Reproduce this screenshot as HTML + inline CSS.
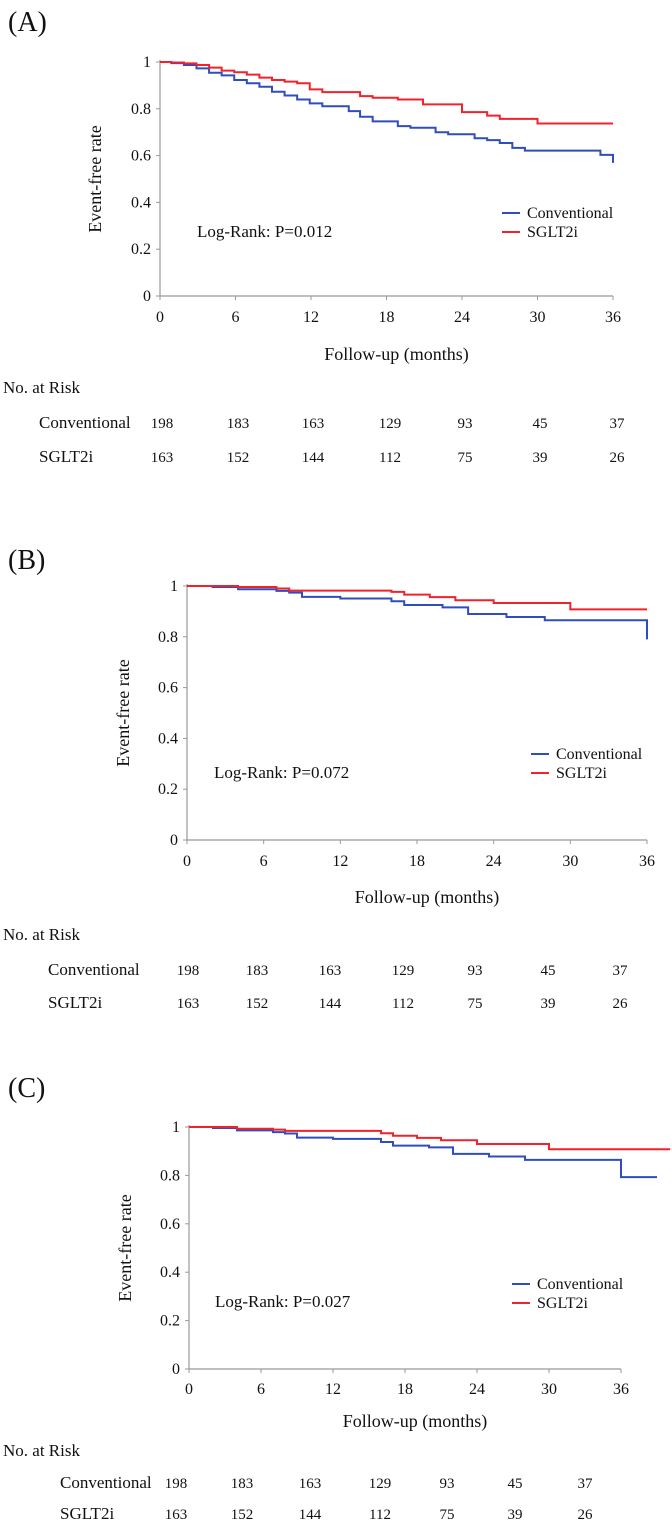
<!DOCTYPE html>
<html><head><meta charset="utf-8"><style>
body{margin:0;background:#fff;}
svg{display:block;font-family:"Liberation Serif",serif;}
</style></head><body>
<svg id="s" width="672" height="1532" viewBox="0 0 672 1532" xmlns="http://www.w3.org/2000/svg"></svg>
<script>
const xTicks=[0,6,12,18,24,30,36];
const yTicks=[0,0.2,0.4,0.6,0.8,1];
const yTickLabels=["0","0.2","0.4","0.6","0.8","1"];
const riskConv=[198,183,163,129,93,45,37];
const riskSglt=[163,152,144,112,75,39,26];
// Panel A
const aConvT=[0,0.9,1.9,2.9,3.9,4.9,5.9,6.9,7.9,8.9,9.9,10.9,11.9,12.9,15,15.9,16.9,18.9,19.9,21.9,22.9,25,26,27,28,29,35,36];
const aConvS=[1,0.995,0.987,0.973,0.954,0.943,0.923,0.909,0.894,0.873,0.857,0.84,0.823,0.811,0.79,0.766,0.746,0.726,0.719,0.70,0.691,0.674,0.666,0.654,0.633,0.621,0.603,0.569];
const aSgltT=[0,0.9,1.9,2.9,3.9,4.9,5.9,6.9,7.9,8.9,9.9,10.9,11.9,12.9,15.9,16.9,18.9,20.9,24,26,27,30];
const aSgltS=[1,0.998,0.994,0.987,0.976,0.963,0.956,0.946,0.933,0.923,0.916,0.909,0.883,0.871,0.854,0.847,0.84,0.819,0.786,0.771,0.757,0.737];
// Panel B
const bConvT=[0,2,4,7,8,9,12,16,17,20,22,25,28,36];
const bConvS=[1,0.996,0.987,0.981,0.974,0.957,0.951,0.94,0.925,0.916,0.89,0.878,0.865,0.79];
const bSgltT=[0,4,7,8,16,17,19,21,24,30];
const bSgltS=[1,0.996,0.99,0.982,0.977,0.966,0.956,0.944,0.933,0.908];
// Panel C
const cConvT=[0,2,4,7,8,9,12,16,17,20,22,25,28,36];
const cConvS=[1,0.996,0.986,0.979,0.973,0.956,0.951,0.938,0.923,0.916,0.889,0.878,0.864,0.793];
const cSgltT=[0,4,7,8,16,17,19,21,24,30];
const cSgltS=[1,0.993,0.989,0.984,0.974,0.964,0.955,0.945,0.93,0.908];

const NS="http://www.w3.org/2000/svg";
const svg=document.getElementById('s');
function mk(tag,attrs,parent,txt){const e=document.createElementNS(NS,tag);for(const k in attrs)e.setAttribute(k,attrs[k]);if(txt!==undefined)e.textContent=txt;(parent||svg).appendChild(e);return e;}

const panels=[
 {id:'a',label:'(A)',ly:31,x0:160,x1:613,y0:296,y1:62,endC:36,endS:36,conv:[aConvT,aConvS],sglt:[aSgltT,aSgltS],p:'Log-Rank: P=0.012',px:197,py:237,lgx:502,lgy:213,titleX:101,tickY:322,fuY:360,narY:393,rowY:[428,462],nums:[162,238,313,390,465,540,617],labX:39},
 {id:'b',label:'(B)',ly:569,x0:187,x1:647,y0:840,y1:586,endC:36,endS:36,conv:[bConvT,bConvS],sglt:[bSgltT,bSgltS],p:'Log-Rank: P=0.072',px:214,py:778,lgx:531,lgy:754,titleX:129,tickY:866,fuY:903,narY:940,rowY:[975,1008],nums:[188,257,330,403,475,548,620],labX:48},
 {id:'c',label:'(C)',ly:1097,x0:189,x1:621,y0:1369,y1:1127,endC:39,endS:40.1,conv:[cConvT,cConvS],sglt:[cSgltT,cSgltS],p:'Log-Rank: P=0.027',px:215,py:1307,lgx:512,lgy:1284,titleX:131,tickY:1394,fuY:1427,narY:1456,rowY:[1488,1519],nums:[176,242,310,380,447,515,585],labX:60}
];

panels.forEach(P=>{
 const g=mk('g',{});
 
 
 const xs=m=>P.x0+(P.x1-P.x0)*m/36;
 const ys=v=>P.y0+(P.y1-P.y0)*v;
 let t=mk('text',{x:8,y:P.ly,'font-size':28,fill:'#111'},g,P.label);
 
 let ax=mk('path',{d:`M${P.x0},${P.y1-2}V${P.y0}H${P.x1}`,stroke:'#999',fill:'none','stroke-width':1.2},g);
 
 yTicks.forEach((v,i)=>{
  mk('line',{x1:P.x0-4,x2:P.x0,y1:ys(v),y2:ys(v),stroke:'#999'},g);
  const l=mk('text',{x:P.x0-9,y:ys(v)+5,'font-size':16,'text-anchor':'end',fill:'#111'},g,yTickLabels[i]);
  
 });
 xTicks.forEach(m=>{
  mk('line',{x1:xs(m),x2:xs(m),y1:P.y0,y2:P.y0+4,stroke:'#999'},g);
  const l=mk('text',{x:xs(m),y:P.tickY,'font-size':16,'text-anchor':'middle',fill:'#111'},g,String(m));
  
 });
 const yc=(P.y0+P.y1)/2;
 let yt=mk('text',{x:P.titleX,y:yc,'font-size':18,'text-anchor':'middle',fill:'#111',transform:`rotate(-90 ${P.titleX} ${yc})`},g,'Event-free rate');
 
 let xt=mk('text',{x:(P.x0+P.x1)/2+10,y:P.fuY,'font-size':18,'text-anchor':'middle',fill:'#111'},g,'Follow-up (months)');
 
 function curve(T,S,end,col,name){
  let d=`M${xs(T[0])},${ys(S[0])}`;
  for(let i=1;i<T.length;i++){d+=`H${xs(T[i])}V${ys(S[i])}`;}
  d+=`H${xs(end)}`;
  const p=mk('path',{d:d,stroke:col,fill:'none','stroke-width':2},g);
  
 }
 curve(P.conv[0],P.conv[1],P.endC,'#2f4dbf','conventional-curve');
 curve(P.sglt[0],P.sglt[1],P.endS,'#f0222b','sglt2i-curve');
 let pv=mk('text',{x:P.px,y:P.py,'font-size':17,fill:'#111'},g,P.p);
 
 [['Conventional','#2f4dbf'],['SGLT2i','#f0222b']].forEach((e,i)=>{
  const yy=P.lgy+i*19;
  const le=mk('g',{},g);
  
  mk('line',{x1:P.lgx,x2:P.lgx+18,y1:yy,y2:yy,stroke:e[1],'stroke-width':2},le);
  mk('text',{x:P.lgx+25,y:yy+5,'font-size':16,fill:'#111'},le,e[0]);
 });
 let nr=mk('text',{x:3,y:P.narY,'font-size':17,fill:'#111'},g,'No. at Risk');
 
 [['Conventional',riskConv],['SGLT2i',riskSglt]].forEach((r,i)=>{
  const row=mk('g',{},g);
  
  mk('text',{x:P.labX,y:P.rowY[i],'font-size':17,fill:'#111'},row,r[0]);
  r[1].forEach((n,j)=>mk('text',{x:P.nums[j],y:P.rowY[i],'font-size':15,'text-anchor':'middle',fill:'#111'},row,String(n)));
 });
});
</script>
</body></html>
